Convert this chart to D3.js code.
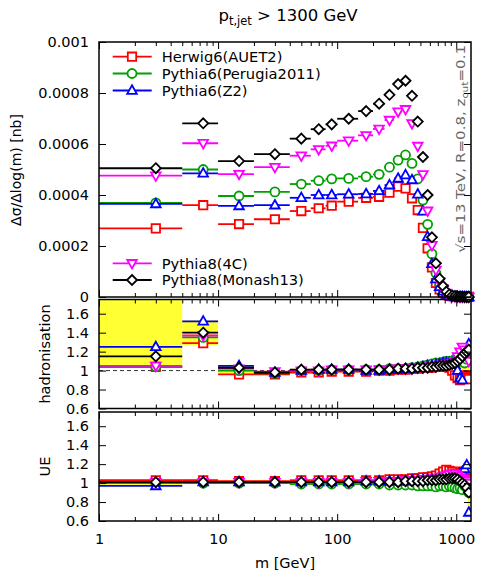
<!DOCTYPE html>
<html><head><meta charset="utf-8">
<script src="https://cdn.jsdelivr.net/npm/d3@7"></script>
<style>body{margin:0;background:#fff} svg{display:block;font-family:"DejaVu Sans",sans-serif}</style>
</head><body><svg id="c" width="477" height="571"></svg>
<script>
// ---------------- data ----------------
const binEdges = [1,5,10,20,40,60,80,100,150,200,250,300,350,400,450,500,550,600,650,700,750,800,850,900,950,1000,1050,1100,1150,1200,1250,1300];
const seriesNames = ["Herwig6(AUET2)","Pythia6(Perugia2011)","Pythia6(Z2)","Pythia8(4C)","Pythia8(Monash13)"];

// dσ/dlog(m) [nb]
const xsecHerwig  = [0.000269,0.000360,0.000286,0.000305,0.000337,0.000348,0.000358,0.000374,0.000389,0.000393,0.000409,0.000433,0.000426,0.000387,0.000341,0.000271,0.000191,0.000116,0.000055,0.000030,0.000017,0.000009,0.000005,0.000003,0.000002,0.000001,0.0000006,0.0000004,0.0000002,0.0000001,0.0000001];
const xsecPerugia = [0.000369,0.000500,0.000396,0.000412,0.000443,0.000456,0.000463,0.000465,0.000472,0.000481,0.000509,0.000537,0.000557,0.000524,0.000463,0.000380,0.000285,0.000169,0.000093,0.000050,0.000028,0.000014,0.000007,0.000004,0.000002,0.000001,0.0000006,0.0000004,0.0000002,0.0000001,0.0000001];
const xsecZ2      = [0.000365,0.000485,0.000357,0.000360,0.000389,0.000400,0.000400,0.000403,0.000404,0.000416,0.000439,0.000465,0.000478,0.000459,0.000403,0.000336,0.000236,0.000130,0.000070,0.000040,0.000022,0.000011,0.000006,0.000003,0.000002,0.000001,0.0000006,0.0000004,0.0000002,0.0000001,0.0000001];
const xsecP8_4C   = [0.000476,0.000603,0.000482,0.000509,0.000554,0.000579,0.000593,0.000613,0.000634,0.000659,0.000694,0.000727,0.000736,0.000681,0.000592,0.000481,0.000338,0.000203,0.000106,0.000060,0.000033,0.000016,0.000008,0.000004,0.000002,0.000001,0.0000006,0.0000004,0.0000002,0.0000001,0.0000001];
const xsecMonash  = [0.000505,0.000681,0.000533,0.000560,0.000621,0.000658,0.000677,0.000699,0.000729,0.000758,0.000793,0.000835,0.000848,0.000789,0.000688,0.000549,0.000400,0.000234,0.000132,0.000072,0.000043,0.000021,0.000010,0.000005,0.000003,0.000002,0.000001,0.0000006,0.0000003,0.0000002,0.0000001];

// hadronisation ratio
const hadrHerwig  = [1.04,1.29,0.96,0.96,0.98,0.98,0.99,0.99,0.99,1.00,1.00,1.01,1.01,1.02,1.02,1.03,1.03,1.03,1.04,1.04,1.05,1.04,1.03,1.00,0.95,0.92,0.90,0.92,0.95,0.93,0.91];
const hadrPerugia = [1.04,1.35,1.00,0.97,1.00,1.00,1.01,1.01,1.01,1.01,1.02,1.02,1.02,1.03,1.04,1.05,1.06,1.07,1.08,1.08,1.09,1.10,1.10,1.10,1.12,1.14,1.10,1.10,1.08,1.12,1.20];
const hadrZ2      = [1.25,1.52,1.05,0.98,1.00,1.01,1.01,1.01,1.00,1.00,1.01,1.01,1.02,1.02,1.03,1.04,1.05,1.05,1.06,1.07,1.08,1.08,1.08,1.08,1.06,1.00,0.92,0.90,1.15,1.22,1.28];
const hadrP8_4C   = [1.05,1.37,1.02,0.99,1.00,1.00,1.01,1.01,1.01,1.01,1.01,1.02,1.02,1.02,1.03,1.03,1.04,1.05,1.05,1.06,1.06,1.07,1.07,1.08,1.10,1.15,1.20,1.25,1.22,1.18,1.10];
const hadrMonash  = [1.15,1.40,1.03,0.98,1.01,1.01,1.01,1.01,1.01,1.01,1.01,1.02,1.02,1.02,1.03,1.03,1.03,1.04,1.04,1.05,1.05,1.05,1.06,1.07,1.08,1.10,1.12,1.15,1.18,1.20,1.22];
const hadrBandFirst = [[1.04,1.90],[1.27,1.53],[0.96,1.05]];

// UE ratio
const ueHerwig  = [1.03,1.03,1.02,1.02,1.03,1.03,1.03,1.03,1.03,1.03,1.04,1.04,1.04,1.05,1.05,1.06,1.06,1.07,1.08,1.10,1.12,1.14,1.13,1.12,1.10,1.08,1.10,1.12,1.08,1.05,1.03];
const uePerugia = [1.00,1.00,1.00,1.00,0.99,0.99,0.99,0.99,0.99,0.99,0.98,0.98,0.98,0.98,0.97,0.97,0.97,0.97,0.96,0.97,0.97,0.96,0.97,0.96,0.95,0.94,0.95,0.93,0.97,0.95,0.90];
const ueZ2      = [0.97,1.01,1.01,1.01,1.01,1.01,1.01,1.01,1.02,1.02,1.02,1.02,1.02,1.03,1.03,1.03,1.04,1.04,1.04,1.05,1.05,1.05,1.06,1.06,1.07,1.08,1.10,1.12,1.15,1.19,0.69];
const ueP8_4C   = [1.01,1.01,1.01,1.01,1.01,1.01,1.01,1.01,1.02,1.02,1.02,1.02,1.03,1.03,1.03,1.04,1.04,1.05,1.05,1.06,1.07,1.08,1.09,1.10,1.10,1.08,1.06,1.05,1.04,1.02,1.00];
const ueMonash  = [1.01,1.01,1.01,1.01,1.01,1.01,1.01,1.01,1.01,1.01,1.01,1.01,1.02,1.02,1.02,1.02,1.03,1.03,1.03,1.04,1.04,1.04,1.05,1.05,1.05,1.04,1.02,1.00,0.98,0.95,0.90];
const ueBandFirst = [[0.98,1.00]];

const xMajorTicks = [1,10,100,1000];
const xMinorTicks = [2,3,4,5,6,7,8,9,20,30,40,50,60,70,80,90,200,300,400,500,600,700,800,900];
const yMainTicks = [0,0.0002,0.0004,0.0006,0.0008,0.001];
const yRatioTicks = [0.6,0.8,1,1.2,1.4,1.6];

// ---------------- styles ----------------
const colors = ["#ff0000","#00a000","#0000ff","#ff00ff","#000000"];
const shapes = ["square","circle","triUp","triDown","diamond"];
const shapePath = {
  square: "M-4.2,-4.2h8.4v8.4h-8.4z",
  circle: "M4.5,0A4.5,4.5 0 1,1 -4.5,0A4.5,4.5 0 1,1 4.5,0Z",
  triUp: "M0,-5.2L4.8,3.3L-4.8,3.3Z",
  triDown: "M0,5.2L4.8,-3.3L-4.8,-3.3Z",
  diamond: "M0,-5L5,0L0,5L-5,0Z"
};

const svg = d3.select("#c");
const FONT = "DejaVu Sans";
const bins = d3.pairs(binEdges).map(([a,b]) => ({a,b,c:(a+b)/2}));

const x = d3.scaleLog().domain([1,1330]).range([99,471]);
const panels = [
  {name:"main", y:d3.scaleLinear().domain([0,0.001]).range([297,42]), ticks:yMainTicks,
   data:[xsecHerwig,xsecPerugia,xsecZ2,xsecP8_4C,xsecMonash], clip:false},
  {name:"hadr", y:d3.scaleLinear().domain([0.6,1.75]).range([408.5,299.5]), ticks:yRatioTicks,
   data:[hadrHerwig,hadrPerugia,hadrZ2,hadrP8_4C,hadrMonash], band:hadrBandFirst, clip:true, label:"hadronisation"},
  {name:"ue", y:d3.scaleLinear().domain([0.6,1.75]).range([521,412]), ticks:yRatioTicks,
   data:[ueHerwig,uePerugia,ueZ2,ueP8_4C,ueMonash], band:ueBandFirst, clip:true, label:"UE", xlabels:true}
];

const defs = svg.append("defs");

panels.forEach((p,pi) => {
  const [yb, yt] = p.y.range();
  const x0 = x.range()[0], x1 = x.range()[1];
  const g = svg.append("g");
  defs.append("clipPath").attr("id","clip"+pi).append("rect")
    .attr("x",x0).attr("y",yt).attr("width",x1-x0).attr("height",yb-yt);
  const inner = g.append("g");
  if (p.clip) inner.attr("clip-path","url(#clip"+pi+")");

  // band (envelope)
  if (p.band) {
    const bandData = bins.map((b,i) => {
      if (i < p.band.length) return {b, lo:p.band[i][0], hi:p.band[i][1]};
      const vals = p.data.map(s => s[i]);
      const e = d3.extent(vals);
      return {b, lo:e[0]-0.01, hi:e[1]+0.01};
    });
    inner.selectAll("rect.band").data(bandData).join("rect")
      .attr("x", d => x(d.b.a)).attr("width", d => x(d.b.b)-x(d.b.a))
      .attr("y", d => p.y(d.hi)).attr("height", d => p.y(d.lo)-p.y(d.hi))
      .attr("fill","#ffff33");
    inner.append("line").attr("x1",x0).attr("x2",x1).attr("y1",p.y(1)).attr("y2",p.y(1))
      .attr("stroke","#333").attr("stroke-width",1).attr("stroke-dasharray","4,3");
  }

  p.data.forEach((vals,si) => {
    const sg = inner.append("g");
    const pts = bins.map((b,i) => ({b, v:vals[i]}));
    sg.selectAll("line").data(pts).join("line")
      .attr("x1", d => x(d.b.a)).attr("x2", d => x(d.b.b))
      .attr("y1", d => p.y(d.v)).attr("y2", d => p.y(d.v))
      .attr("stroke", colors[si]).attr("stroke-width",1.8);
    sg.selectAll("path").data(pts).join("path")
      .attr("d", shapePath[shapes[si]])
      .attr("transform", d => `translate(${x(d.b.c)},${p.y(d.v)})`)
      .attr("fill","#fff").attr("stroke", colors[si]).attr("stroke-width",1.8);
  });

  // frame
  g.append("rect").attr("x",x0).attr("y",yt).attr("width",x1-x0).attr("height",yb-yt)
    .attr("fill","none").attr("stroke","#000").attr("stroke-width",1.5);

  // axes
  const styleAxis = sel => {
    sel.select(".domain").remove();
    sel.selectAll("line").attr("stroke","#000").attr("stroke-width",1);
    sel.selectAll("text").attr("font-family",FONT).attr("font-size","14.5px").attr("fill","#000");
  };
  g.append("g").attr("transform",`translate(0,${yb})`)
    .call(d3.axisBottom(x).tickValues(xMajorTicks).tickSize(-7).tickPadding(13)
      .tickFormat(p.xlabels ? (d => String(d)) : () => ""))
    .call(styleAxis);
  g.append("g").attr("transform",`translate(0,${yb})`)
    .call(d3.axisBottom(x).tickValues(xMinorTicks).tickSize(-4).tickFormat(() => "")).call(styleAxis);
  g.append("g").attr("transform",`translate(0,${yt})`)
    .call(d3.axisTop(x).tickValues(xMajorTicks).tickSize(-7).tickFormat(() => "")).call(styleAxis);
  g.append("g").attr("transform",`translate(0,${yt})`)
    .call(d3.axisTop(x).tickValues(xMinorTicks).tickSize(-4).tickFormat(() => "")).call(styleAxis);
  g.append("g").attr("transform",`translate(${x0},0)`)
    .call(d3.axisLeft(p.y).tickValues(p.ticks).tickSize(-7).tickPadding(10).tickFormat(d => String(d)))
    .call(styleAxis);
  g.append("g").attr("transform",`translate(${x1},0)`)
    .call(d3.axisRight(p.y).tickValues(p.ticks).tickSize(-7).tickFormat(() => "")).call(styleAxis);

  if (p.label) {
    g.append("text").attr("transform",`translate(50,${(yb+yt)/2}) rotate(-90)`)
      .attr("text-anchor","middle").attr("font-family",FONT).attr("font-size","14.5px").text(p.label);
  }
});

// y label main
svg.append("text").attr("transform","translate(21,170) rotate(-90)")
  .attr("text-anchor","middle").attr("font-family",FONT).attr("font-size","14px")
  .text("Δσ/Δlog(m) [nb]");

// x label
svg.append("text").attr("x",285).attr("y",568).attr("text-anchor","middle")
  .attr("font-family",FONT).attr("font-size","14.5px").text("m [GeV]");

// title
const title = svg.append("text").attr("x",288).attr("y",21).attr("text-anchor","middle")
  .attr("font-family",FONT).attr("font-size","16.5px");
title.append("tspan").text("p");
title.append("tspan").attr("font-size","11.5px").attr("dy",4).text("t,jet");
title.append("tspan").attr("dy",-4).text(" > 1300 GeV");

// side text
const side = svg.append("text").attr("transform","translate(465,45) rotate(-90)")
  .attr("text-anchor","end").attr("font-family",FONT).attr("font-size","12px").attr("fill","#666")
  .attr("textLength",208).attr("lengthAdjust","spacingAndGlyphs");
side.append("tspan").text("√s=13 TeV, R=0.8, z");
side.append("tspan").attr("font-size","8.5px").attr("dy",3).text("cut");
side.append("tspan").attr("dy",-3).text("=0.1");

// legends
const legendRows = [
  {i:0, y:56.7},{i:1, y:73.5},{i:2, y:90.5},{i:3, y:263.3},{i:4, y:280}
];
legendRows.forEach(r => {
  const lg = svg.append("g");
  lg.append("line").attr("x1",112.7).attr("x2",151.7).attr("y1",r.y).attr("y2",r.y)
    .attr("stroke",colors[r.i]).attr("stroke-width",1.8);
  lg.append("path").attr("d",shapePath[shapes[r.i]]).attr("transform",`translate(132,${r.y})`)
    .attr("fill","#fff").attr("stroke",colors[r.i]).attr("stroke-width",1.8);
  lg.append("text").attr("x",161.7).attr("y",r.y).attr("dy","0.36em")
    .attr("font-family",FONT).attr("font-size","14.7px").text(seriesNames[r.i]);
});
</script></body></html>
